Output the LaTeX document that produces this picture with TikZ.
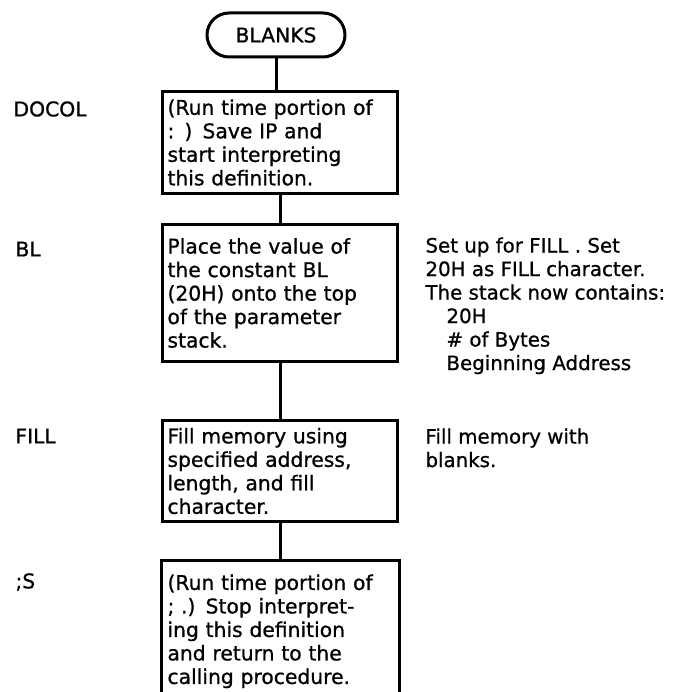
\documentclass[tikz,border=0pt]{standalone}
\usepackage{fontspec}
\setmainfont[FakeBold=0.8]{DejaVu Sans}

\tikzset{
	stepbox/.style={draw, line width=3pt, text width=225pt, inner xsep=5pt, inner ysep=0pt, align=left, anchor=north},
	boxtext/.style={text width=225pt, inner xsep=5pt, inner ysep=13pt, align=left, anchor=north},
	wordname/.style={anchor=west, inner sep=0pt},
	note/.style={anchor=north west, align=left, inner sep=0pt, font=\fontsize{19.8}{23.5}\selectfont}
}

\begin{document}
\begin{tikzpicture}[x=1pt,y=-1pt,line width=3pt,every node/.style={font=\fontsize{20.3}{23.5}\selectfont}]
		\useasboundingbox[fill=white] (0,0) rectangle (672,692);
		\coordinate (pagebottom) at (0,700);
		\node[draw, rounded corners=22pt, minimum width=138pt, minimum height=44pt, inner sep=0pt] (blanks) at (276,35) {BLANKS};
		\node[stepbox, minimum height=102pt] (docol) at (280,90) {(Run time portion of\\: ) Save IP and\\start interpreting\\this definition.};
		\node[stepbox, minimum height=137pt] (bl) at (280,223) {Place the value of\\the constant BL\\(20H) onto the top\\of the parameter\\stack.};
		\node[stepbox, minimum height=101pt] (fill) at (280,419) {Fill memory using\\specified address,\\length, and fill\\character.};
		\node[boxtext] (semis) at (280,560) {(Run time portion of\\; .) Stop interpret-\\ing this definition\\and return to the\\calling procedure.};
		\draw (semis.north west |- pagebottom) -- (semis.north west) -- (semis.north east) -- (semis.north east |- pagebottom);
		\draw (blanks.south) -- (blanks.south |- docol.north);
		\draw (docol.south) -- (bl.north);
		\draw (bl.south) -- (fill.north);
		\draw (fill.south) -- (semis.north);
		\node[wordname] (docolname) at (12,109) {DOCOL};
		\node[wordname] (blname) at (14,249) {BL};
		\node[wordname] (fillname) at (14,436) {FILL};
		\node[wordname] (semisname) at (14,582) {;S};
		\node[note] (blnote) at (424,236) {Set up for FILL . Set\\20H as FILL character.\\The stack now contains:\\\hspace*{21pt}20H\\\hspace*{21pt}\# of Bytes\\\hspace*{21pt}Beginning Address};
		\node[note] (fillnote) at (424,427) {Fill memory with\\blanks.};
\end{tikzpicture}
\end{document}
